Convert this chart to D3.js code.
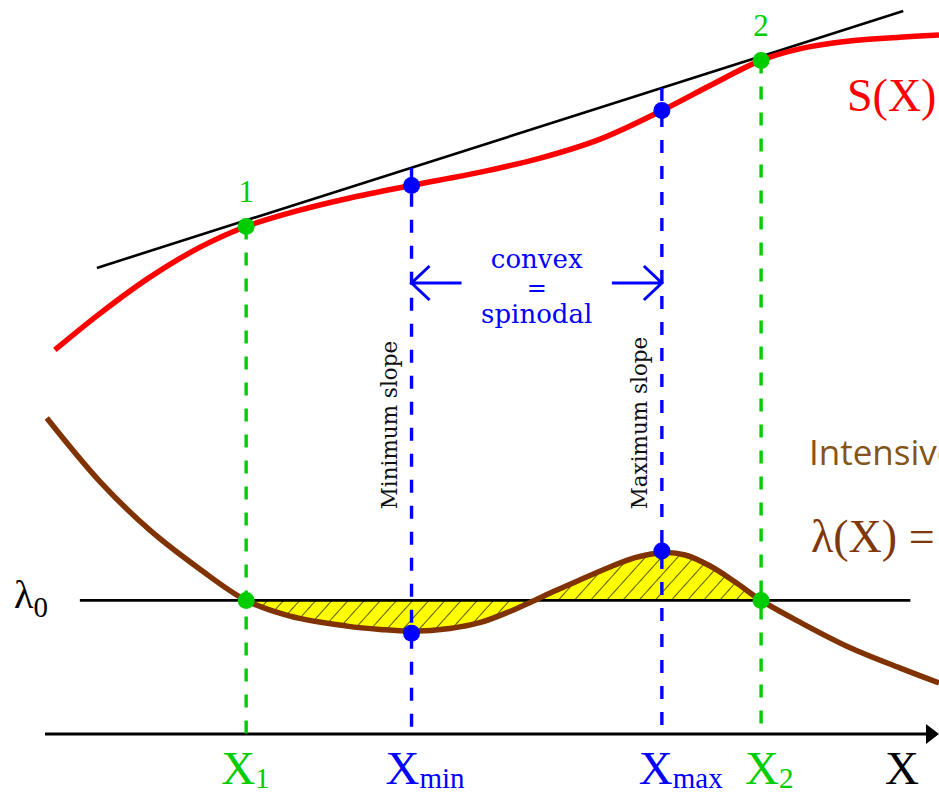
<!DOCTYPE html>
<html><head><meta charset="utf-8">
<script src="https://cdn.jsdelivr.net/npm/d3@7"></script>
<style>html,body{margin:0;padding:0;background:#fff;overflow:hidden}</style>
</head><body><svg id="chart" width="939" height="793"></svg>
<script>
// Extensive function S(X), sampled along X
const sX   = [0.11,0.62,1.17,1.73,2.25,2.85,3.41,4.10,4.87,5.54,6.21,6.90,7.44,8.01,8.45,9.00,9.56,10.0];
const sVal = [0.79,1.76,2.70,3.49,4.04,4.47,4.79,5.12,5.47,5.84,6.34,7.09,7.75,8.41,8.72,8.92,9.02,9.08];

// Intensive variable λ(X)
const lamX   = [0.02,0.62,1.17,1.73,2.25,2.74,3.38,3.75,4.10,4.53,4.87,5.20,5.46,5.70,5.98,6.32,6.60,6.90,7.16,7.44,7.72,8.01,8.45,9.00,9.56,10.0];
const lamVal = [9.46,7.54,6.11,4.94,4.00,3.53,3.23,3.13,3.08,3.16,3.34,3.67,3.98,4.28,4.61,5.00,5.28,5.43,5.36,5.03,4.55,4.00,3.34,2.59,1.98,1.53];

// Common tangent (double tangent) to S(X)
const tangentX = [0.58, 9.60];
const tangentS = [2.95, 9.71];

// Constant level λ0 and its drawn extent
const lambda0 = 4.0;
const lam0X = [0.39, 9.68];

// Marked abscissae
const markX    = [2.25, 4.10, 6.90, 8.01];
const markSub  = ["1", "min", "max", "2"];
const markKind = ["coex", "spin", "spin", "coex"];
const markS    = [4.04, 5.12, 7.09, 8.41];
const markLam  = [4.00, 3.02, 5.48, 4.00];
const pointNum = ["1", "", "", "2"];

const GREEN = "#00cc00", BLUE = "#0000ff", RED = "#ff0000", BROWN = "#803200";
const colorOf = k => k === "coex" ? GREEN : BLUE;

const svg = d3.select("#chart");
const xs = d3.scaleLinear().domain([0, 10]).range([45, 939]);
const sy = d3.scaleLinear().domain([0, 10]).range([380, 0]);
const ly = d3.scaleLinear().domain([0, 10]).range([734, 400]);
const tangent = d3.scaleLinear().domain(tangentX).range(tangentS);

const serif = "'Liberation Serif','Times New Roman',serif";
const dserif = "'DejaVu Serif',serif";

// Hatch pattern for the equal-area regions
const defs = svg.append("defs");
const pat = defs.append("pattern").attr("id", "hatch")
  .attr("patternUnits", "userSpaceOnUse").attr("width", 12).attr("height", 12)
  .attr("patternTransform", "rotate(42)");
pat.append("rect").attr("width", 12).attr("height", 12).attr("fill", "#ffff00");
pat.append("line").attr("x1", 0).attr("y1", 0).attr("x2", 0).attr("y2", 12)
  .attr("stroke", "#000").attr("stroke-width", 1.3);

defs.append("clipPath").attr("id", "between")
  .append("rect")
  .attr("x", xs(markX[0])).attr("y", 0)
  .attr("width", xs(markX[3]) - xs(markX[0])).attr("height", 793);

const lamPts = lamX.map((x, i) => [x, lamVal[i]]);
const sPts = sX.map((x, i) => [x, sVal[i]]);
const curve = d3.curveCatmullRom.alpha(0.5);

// Area between λ(X) and λ0
svg.append("path")
  .attr("clip-path", "url(#between)")
  .attr("d", d3.area().curve(curve)
    .x(d => xs(d[0])).y0(ly(lambda0)).y1(d => ly(d[1]))(lamPts))
  .attr("fill", "url(#hatch)");

// λ0 level
svg.append("line")
  .attr("x1", xs(lam0X[0])).attr("x2", xs(lam0X[1]))
  .attr("y1", ly(lambda0)).attr("y2", ly(lambda0))
  .attr("stroke", "#000").attr("stroke-width", 2.6);

// X axis with arrow
svg.append("line")
  .attr("x1", xs(0)).attr("x2", 928).attr("y1", ly(0)).attr("y2", ly(0))
  .attr("stroke", "#000").attr("stroke-width", 3);
svg.append("path")
  .attr("d", `M926,${ly(0) - 10} L939,${ly(0)} L926,${ly(0) + 10} Z`)
  .attr("fill", "#000");

// Tangent line
svg.append("line")
  .attr("x1", xs(tangentX[0])).attr("y1", sy(tangentS[0]))
  .attr("x2", xs(tangentX[1])).attr("y2", sy(tangentS[1]))
  .attr("stroke", "#000").attr("stroke-width", 2.6);

// Dashed verticals
markX.forEach((x, i) => {
  const top = markKind[i] === "coex" ? sy(markS[i]) : sy(tangent(x));
  svg.append("line")
    .attr("x1", xs(x)).attr("x2", xs(x))
    .attr("y1", top).attr("y2", ly(0))
    .attr("stroke", colorOf(markKind[i])).attr("stroke-width", 3.4)
    .attr("stroke-dasharray", "13,13");
});

// Curves
svg.append("path")
  .attr("d", d3.line().curve(curve).x(d => xs(d[0])).y(d => sy(d[1]))(sPts))
  .attr("fill", "none").attr("stroke", RED).attr("stroke-width", 5.5);
svg.append("path")
  .attr("d", d3.line().curve(curve).x(d => xs(d[0])).y(d => ly(d[1]))(lamPts))
  .attr("fill", "none").attr("stroke", BROWN).attr("stroke-width", 5.5);

// Points
markX.forEach((x, i) => {
  const c = colorOf(markKind[i]);
  svg.append("circle").attr("cx", xs(x)).attr("cy", sy(markS[i])).attr("r", 8.5).attr("fill", c);
  svg.append("circle").attr("cx", xs(x)).attr("cy", ly(markLam[i])).attr("r", 8.5).attr("fill", c);
  if (pointNum[i]) {
    svg.append("text").attr("x", xs(x)).attr("y", sy(markS[i]) - 24)
      .attr("text-anchor", "middle").attr("font-family", serif).attr("font-size", 31)
      .attr("fill", GREEN).text(pointNum[i]);
  }
});

// Axis labels under the marks
const labelOffset = [-25, -26, -23, -16];
markX.forEach((x, i) => {
  const t = svg.append("text").attr("x", xs(x) + labelOffset[i]).attr("y", 784)
    .attr("font-family", serif).attr("fill", colorOf(markKind[i]));
  t.append("tspan").attr("font-size", 47).text("X");
  t.append("tspan").attr("font-size", 29).attr("dy", 4).text(markSub[i]);
});
svg.append("text").attr("x", 885).attr("y", 784)
  .attr("font-family", serif).attr("font-size", 47).attr("fill", "#000").text("X");

// λ0 label
const l0 = svg.append("text").attr("x", 14).attr("y", 608).attr("font-family", serif).attr("fill", "#000");
l0.append("tspan").attr("font-size", 40).text("λ");
l0.append("tspan").attr("font-size", 29).attr("dy", 9).text("0");

// Convex = spinodal annotation
const midY = 283;
const xa = xs(markX[1]), xb = xs(markX[2]);
const arrow = (tip, tail, dir) => `M${tail},${midY} L${tip},${midY} M${tip + dir * 18},${midY - 17} L${tip},${midY} L${tip + dir * 18},${midY + 17}`;
svg.append("path").attr("d", arrow(xa, xa + 50, 1))
  .attr("fill", "none").attr("stroke", BLUE).attr("stroke-width", 3);
svg.append("path").attr("d", arrow(xb, xb - 50, -1))
  .attr("fill", "none").attr("stroke", BLUE).attr("stroke-width", 3);
const cx = (xa + xb) / 2;
[["convex", 268, 26], ["=", 296, 24], ["spinodal", 323, 26]].forEach(([s, y, fs]) => {
  svg.append("text").attr("x", cx).attr("y", y).attr("text-anchor", "middle")
    .attr("font-family", dserif).attr("font-size", fs).attr("fill", BLUE).text(s);
});

// Rotated slope notes
[["Minimum slope", xs(markX[1]) - 15, 425], ["Maximum slope", xs(markX[2]) - 15, 423]].forEach(([s, x, y]) => {
  svg.append("text").attr("transform", `translate(${x},${y}) rotate(-90)`)
    .attr("text-anchor", "middle").attr("font-family", dserif).attr("font-size", 21.5)
    .attr("fill", "#111").text(s);
});

// Curve names
svg.append("text").attr("x", 847).attr("y", 111)
  .attr("font-family", serif).attr("font-size", 46).attr("fill", RED).text("S(X)");
svg.append("text").attr("x", 809).attr("y", 465)
  .attr("font-family", "'Open Sans',sans-serif").attr("font-size", 35).attr("fill", "#845418").text("Intensive");
svg.append("text").attr("x", 811).attr("y", 552)
  .attr("font-family", serif).attr("font-size", 46).attr("fill", "#80380a").text("λ(X) =");
</script></body></html>
